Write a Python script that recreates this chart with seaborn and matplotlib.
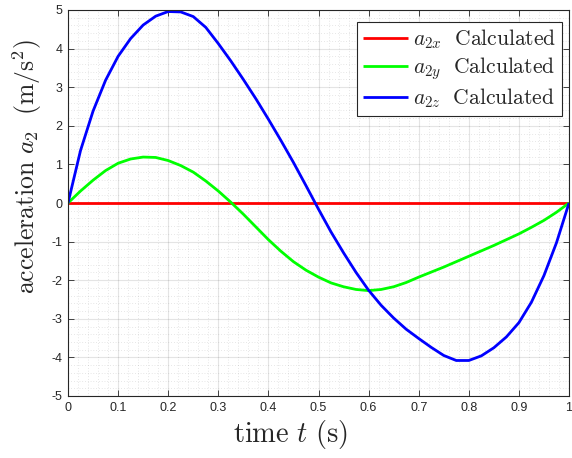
import numpy as np
import pandas as pd
import matplotlib
matplotlib.use("Agg")
import matplotlib.pyplot as plt
from matplotlib.ticker import MultipleLocator
import seaborn as sns

# ---- data ----
t_x = [0.0, 1.0]
a2x = [0.0, 0.0]

t_y = [0.0, 0.025, 0.05, 0.075, 0.1, 0.125, 0.15, 0.175, 0.2, 0.225, 0.25, 0.275,
       0.3, 0.325, 0.35, 0.375, 0.4, 0.425, 0.45, 0.475, 0.5, 0.525, 0.55, 0.575,
       0.6, 0.625, 0.65, 0.675, 0.7, 0.725, 0.75, 0.775, 0.8, 0.825, 0.85, 0.875,
       0.9, 0.925, 0.95, 0.975, 1.0]
a2y = [0.0, 0.31, 0.59, 0.84, 1.03, 1.14, 1.19, 1.18, 1.10, 0.97, 0.80, 0.57,
       0.31, 0.02, -0.29, -0.62, -0.95, -1.25, -1.52, -1.74, -1.92, -2.07, -2.17, -2.24,
       -2.27, -2.24, -2.17, -2.06, -1.92, -1.79, -1.66, -1.52, -1.38, -1.24, -1.10, -0.95,
       -0.80, -0.63, -0.45, -0.24, 0.0]

t_z = [0.0, 0.025, 0.05, 0.075, 0.1, 0.125, 0.15, 0.175, 0.2, 0.225, 0.25, 0.275,
       0.3, 0.325, 0.35, 0.375, 0.4, 0.425, 0.45, 0.475, 0.5, 0.525, 0.55, 0.575,
       0.6, 0.625, 0.65, 0.675, 0.7, 0.725, 0.75, 0.775, 0.8, 0.825, 0.85, 0.875,
       0.9, 0.925, 0.95, 0.975, 1.0]
a2z = [0.0, 1.36, 2.38, 3.18, 3.80, 4.26, 4.61, 4.84, 4.96, 4.95, 4.83, 4.55,
       4.13, 3.68, 3.20, 2.70, 2.17, 1.62, 1.05, 0.45, -0.16, -0.75, -1.29, -1.80,
       -2.26, -2.65, -2.98, -3.27, -3.51, -3.74, -3.95, -4.08, -4.08, -3.96, -3.75, -3.47,
       -3.10, -2.57, -1.88, -1.03, 0.0]

labels = [r'$a_{2x}\ \ \mathrm{Calculated}$',
          r'$a_{2y}\ \ \mathrm{Calculated}$',
          r'$a_{2z}\ \ \mathrm{Calculated}$']
colors = ['#ff0000', '#00ff00', '#0000ff']

xticks = [0, 0.1, 0.2, 0.3, 0.4, 0.5, 0.6, 0.7, 0.8, 0.9, 1]
xticklabels = ['0', '0.1', '0.2', '0.3', '0.4', '0.5', '0.6', '0.7', '0.8', '0.9', '1']
yticks = list(range(-5, 6))

# ---- style ----
sns.set_theme(style='white')
plt.rcParams['font.family'] = ['Liberation Sans', 'DejaVu Sans']
plt.rcParams['mathtext.fontset'] = 'cm'

fig = plt.figure(figsize=(5.72, 4.58), dpi=100)
ax = fig.add_axes([68/572, 1-396/458, (569-68)/572, (396-10)/458])

series = [(t_x, a2x), (t_y, a2y), (t_z, a2z)]
for (tt, vv), lab, col in zip(series, labels, colors):
    df = pd.DataFrame({'t': tt, 'a': vv})
    sns.lineplot(data=df, x='t', y='a', color=col, linewidth=2.0, label=lab,
                 ax=ax, sort=False, estimator=None,
                 solid_joinstyle='round', solid_capstyle='butt')

ax.set_xlim(0, 1)
ax.set_ylim(-5, 5)
ax.set_xticks(xticks)
ax.set_xticklabels(xticklabels)
ax.set_yticks(yticks)
ax.set_yticklabels([str(v) for v in yticks])
ax.xaxis.set_minor_locator(MultipleLocator(0.02))
ax.yaxis.set_minor_locator(MultipleLocator(0.2))

ax.grid(True, which='major', color='#262626', alpha=0.12, linewidth=0.8, linestyle='-')
ax.grid(True, which='minor', color='#262626', alpha=0.22, linewidth=0.5, linestyle=(0, (1, 3)))
ax.set_axisbelow(True)

ax.tick_params(which='major', direction='in', length=4, width=0.6, color='#262626',
               labelsize=9, labelcolor='#262626', top=True, right=True,
               bottom=True, left=True, pad=4)
ax.tick_params(which='minor', length=0, top=True, right=True)
for sp in ax.spines.values():
    sp.set_visible(True)
    sp.set_color('#262626')
    sp.set_linewidth(0.8)

ax.set_xlabel(r'$\mathrm{time}\ t\ \mathrm{(s)}$', fontsize=20.5, color='#262626', labelpad=1)
ax.xaxis.set_label_coords((290-68)/501, -0.058, transform=ax.transAxes)
ax.xaxis.label.set_verticalalignment('top')
ax.set_ylabel(r'$\mathrm{acceleration}\ a_2\ \ (\mathrm{m}/\mathrm{s}^2)$', fontsize=18.5,
              color='#262626', labelpad=4)
ax.yaxis.set_label_coords((44-68)/501, (396-166.5)/386, transform=ax.transAxes)

leg = ax.legend(loc='upper right', fontsize=15.5, frameon=True, fancybox=False,
                edgecolor='#262626', framealpha=1, borderpad=0.25, labelspacing=0.2,
                handlelength=2.1, handletextpad=0.25, borderaxespad=0,
                bbox_to_anchor=(562/572, 1-22/458), bbox_transform=fig.transFigure)
leg.get_frame().set_linewidth(0.8)

fig.savefig('out.png', dpi=100)
